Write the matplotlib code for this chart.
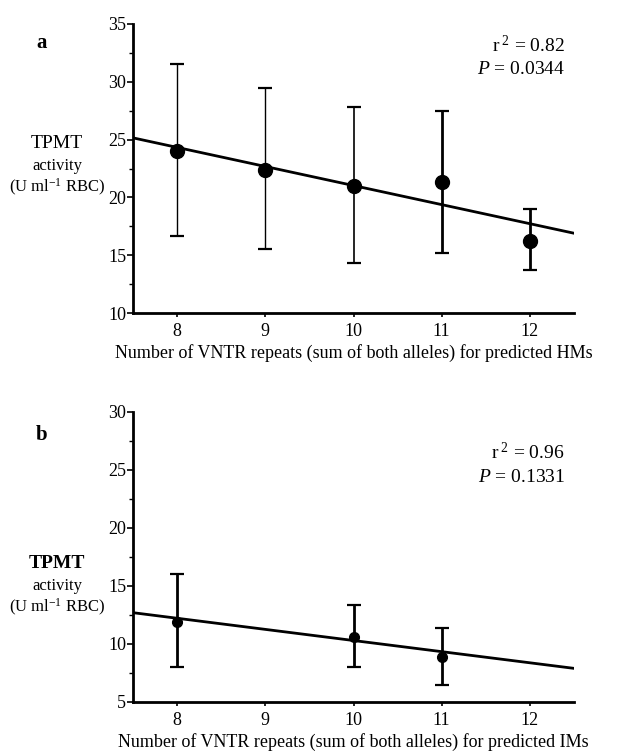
import matplotlib
matplotlib.use("Agg")
import matplotlib.pyplot as plt
from matplotlib.ticker import MultipleLocator

plt.rcParams['font.family'] = ['Liberation Serif', 'DejaVu Serif']
plt.rcParams['mathtext.fontset'] = 'custom'
plt.rcParams['mathtext.rm'] = 'Liberation Serif'
plt.rcParams['mathtext.it'] = 'Liberation Serif:italic'

# panel a: predicted HMs
hm_repeats = [8, 9, 10, 11, 12]
hm_mean = [24.0, 22.4, 21.0, 21.3, 16.2]
hm_low = [16.7, 15.5, 14.3, 15.2, 13.7]
hm_high = [31.5, 29.5, 27.8, 27.5, 19.0]
hm_lw = [1.0, 1.0, 1.2, 2.0, 2.0]
hm_fit_x = [7.5, 12.5]
hm_fit_y = [25.15, 16.9]

# panel b: predicted IMs
im_repeats = [8, 10, 11]
im_mean = [11.9, 10.6, 8.9]
im_low = [8.0, 8.0, 6.5]
im_high = [16.0, 13.4, 11.4]
im_fit_x = [7.5, 12.5]
im_fit_y = [12.7, 7.9]

xticks = [8, 9, 10, 11, 12]

fig = plt.figure(figsize=(6.21, 7.52), dpi=100)
W, H = 621, 752


def make_axes(top, bottom):
    return fig.add_axes([133 / W, 1 - bottom / H, (574 - 133) / W, (bottom - top) / H])


def style(ax, ylim, xlabel):
    ax.set_xlim(7.5, 12.5)
    ax.set_ylim(*ylim)
    ax.set_xticks(xticks)
    ax.yaxis.set_major_locator(MultipleLocator(5))
    ax.yaxis.set_minor_locator(MultipleLocator(2.5))
    for s in ['top', 'right']:
        ax.spines[s].set_visible(False)
    ax.spines['left'].set_linewidth(2)
    ax.spines['bottom'].set_linewidth(2)
    ax.tick_params(axis='y', which='major', length=4, width=1.2, labelsize=13, pad=1)
    ax.tick_params(axis='y', which='minor', length=3, width=1)
    ax.tick_params(axis='x', length=3, width=1.2, labelsize=13, pad=4)
    ax.set_xlabel(xlabel, fontsize=13, labelpad=3)


def errbars(ax, xs, m, lo, hi, lws, ms):
    for x, y, l, h, lw in zip(xs, m, lo, hi, lws):
        ax.errorbar([x], [y], yerr=[[y - l], [h - y]], fmt='o', color='black',
                    ms=ms, elinewidth=lw, capsize=5, capthick=1.6, zorder=3)


def ylabel(y0, bold):
    fig.text(57 / W, 1 - y0 / H, 'TPMT', ha='center', va='center', fontsize=14,
             fontweight='bold' if bold else 'normal')
    fig.text(57 / W, 1 - (y0 + 23) / H, 'activity', ha='center', va='center', fontsize=12)
    fig.text(57 / W, 1 - (y0 + 44) / H, r'(U ml$^{-1}$ RBC)', ha='center', va='center', fontsize=12)


# panel a
ax1 = make_axes(24, 313)
style(ax1, (10, 35), 'Number of VNTR repeats (sum of both alleles) for predicted HMs')
ax1.plot(hm_fit_x, hm_fit_y, color='black', lw=2, zorder=2)
errbars(ax1, hm_repeats, hm_mean, hm_low, hm_high, hm_lw, 10)
fig.text(42 / W, 1 - 43 / H, 'a', fontsize=15, fontweight='bold', va='center', ha='center')
fig.text(565 / W, 1 - 45 / H, r'r$^{\ 2}$ = 0.82', fontsize=14, ha='right', va='center')
fig.text(565 / W, 1 - 69 / H, r'$\mathit{P}$ = 0.0344', fontsize=14, ha='right', va='center')
ylabel(143, False)

# panel b
ax2 = make_axes(412, 702)
style(ax2, (5, 30), 'Number of VNTR repeats (sum of both alleles) for predicted IMs')
ax2.plot(im_fit_x, im_fit_y, color='black', lw=2, zorder=2)
errbars(ax2, im_repeats, im_mean, im_low, im_high, [2.0, 2.0, 2.0], 7)
fig.text(42 / W, 1 - 435 / H, 'b', fontsize=15, fontweight='bold', va='center', ha='center')
fig.text(565 / W, 1 - 453 / H, r'r$^{\ 2}$ = 0.96', fontsize=14, ha='right', va='center')
fig.text(565 / W, 1 - 477 / H, r'$\mathit{P}$ = 0.1331', fontsize=14, ha='right', va='center')
ylabel(563, True)

fig.savefig('out.png', dpi=100)
